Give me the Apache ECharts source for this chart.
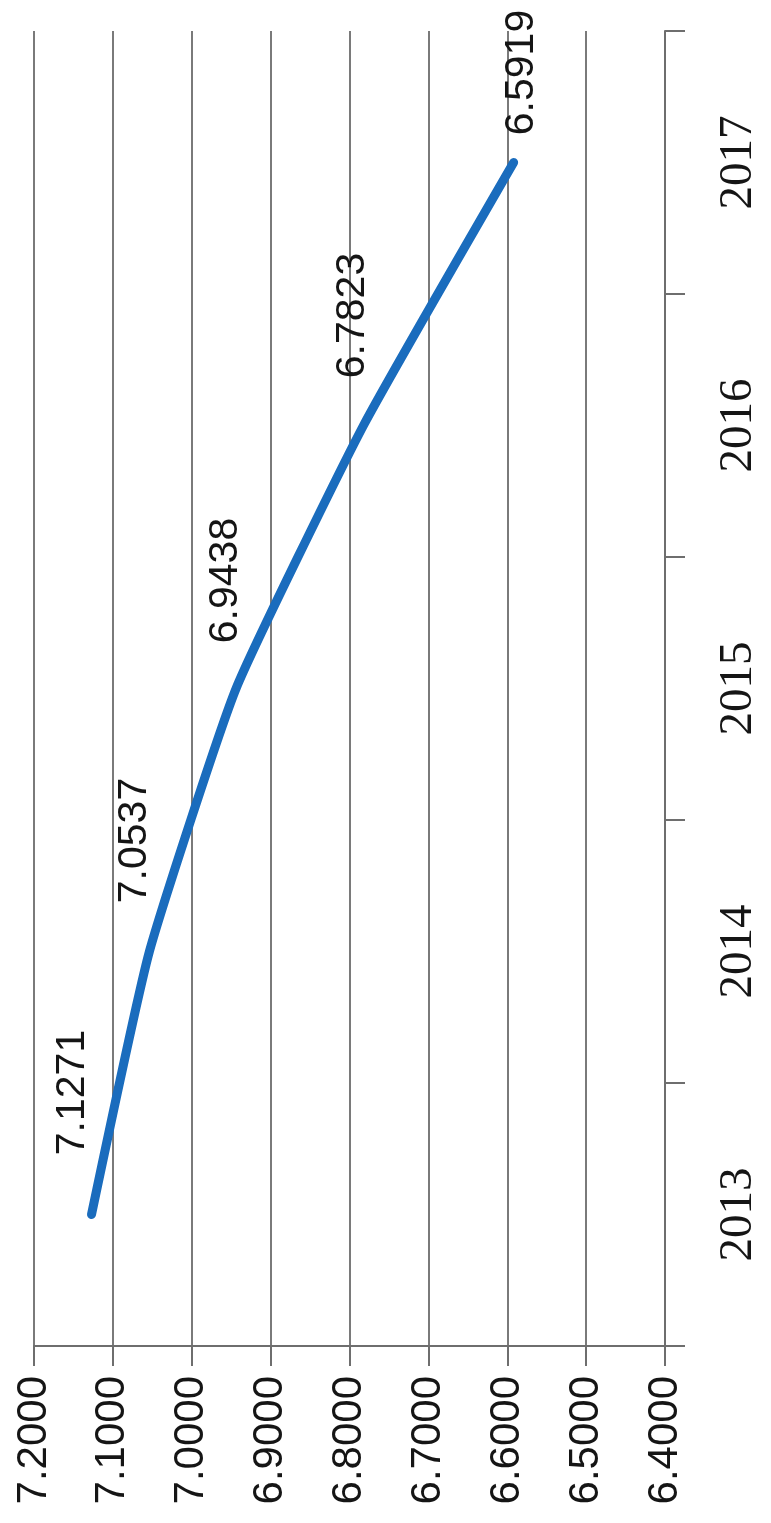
<!DOCTYPE html>
<html>
<head>
<meta charset="utf-8">
<script src="https://cdn.jsdelivr.net/npm/echarts@6/dist/echarts.min.js"></script>
<style>
html,body{margin:0;padding:0;background:#fff;}
#c{width:771px;height:1523px;}
</style>
</head>
<body>
<div id="c"></div>
<script>
// ---- data ----
const years = ['2013', '2014', '2015', '2016', '2017'];
const values = [7.1271, 7.0537, 6.9438, 6.7823, 6.5919];
const valueTicks = { min: 6.4, max: 7.2, step: 0.1 };

// ---- style ----
const narrow = "'Liberation Sans Narrow', 'Arial Narrow', 'Liberation Sans', sans-serif";
const serif = "'Liberation Serif', 'DejaVu Serif', serif";
const labelNudge = [[122, -19], [111, -15], [108, -10], [110, -11], [90, 8]];

const chart = echarts.init(document.getElementById('c'), null, { renderer: 'canvas' });
chart.setOption({
  backgroundColor: '#ffffff',
  animation: false,
  grid: { left: 34, right: 106, top: 31, bottom: 177, containLabel: false },
  xAxis: {
    type: 'value',
    inverse: true,
    position: 'bottom',
    min: valueTicks.min,
    max: valueTicks.max,
    interval: valueTicks.step,
    axisLine: { show: true, onZero: false, lineStyle: { color: '#6e6e6e', width: 2 } },
    axisTick: { show: true, length: 20, lineStyle: { color: '#6e6e6e', width: 2 } },
    splitLine: { show: true, lineStyle: { color: '#7a7a7a', width: 2 } },
    axisLabel: {
      rotate: 90, margin: 30, color: '#151515', fontFamily: narrow, fontSize: 42,
      formatter: v => v.toFixed(4)
    }
  },
  yAxis: {
    type: 'category',
    position: 'right',
    data: years,
    boundaryGap: true,
    axisLine: { show: true, onZero: false, lineStyle: { color: '#6e6e6e', width: 2 } },
    axisTick: { show: true, inside: false, length: 20, alignWithLabel: false, lineStyle: { color: '#6e6e6e', width: 2 } },
    splitLine: { show: false },
    axisLabel: { rotate: 90, margin: 50, color: '#151515', fontFamily: serif, fontSize: 47 }
  },
  series: [{
    type: 'line',
    data: values.map((v, i) => ({
      value: v,
      label: { offset: labelNudge[i] }
    })),
    smooth: 0.15,
    symbol: 'circle',
    symbolSize: 1,
    showSymbol: true,
    itemStyle: { color: '#1a6cbd' },
    lineStyle: { color: '#1a6cbd', width: 9, cap: 'round', join: 'round' },
    label: {
      show: true,
      position: 'inside',
      rotate: 90,
      color: '#151515',
      fontFamily: narrow,
      fontSize: 41,
      formatter: p => p.value.toFixed(4)
    }
  }]
});
</script>
</body>
</html>
